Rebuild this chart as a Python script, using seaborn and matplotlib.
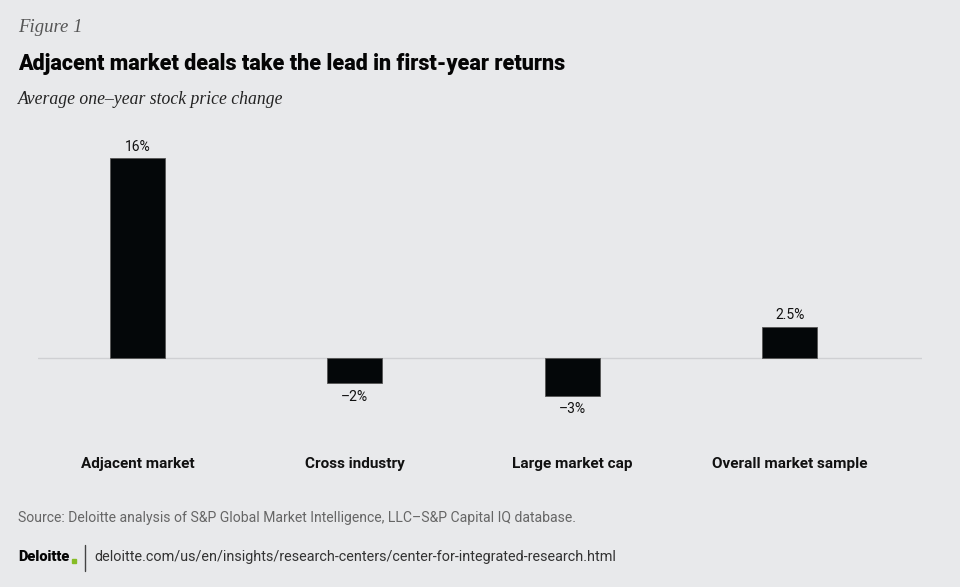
import numpy as np
import pandas as pd
import seaborn as sns
import matplotlib.pyplot as plt
from matplotlib.lines import Line2D

categories = ['Adjacent market', 'Cross industry', 'Large market cap', 'Overall market sample']
values = [16, -2, -3, 2.5]
value_labels = ['16%', '\u20132%', '\u20133%', '2.5%']

df = pd.DataFrame({'category': categories, 'value': values})

bg = '#e8e9eb'
sns.set_theme(style='white')
plt.rcParams['font.family'] = ['Roboto', 'DejaVu Sans']

fig = plt.figure(figsize=(9.6, 5.87), dpi=100, facecolor=bg)
ax = fig.add_axes([38/960, 0.2836, (922-38)/960, 0.4898])
ax.set_facecolor(bg)

sns.barplot(data=df, x='category', y='value', color='#040709', width=0.253,
            saturation=1, ax=ax, edgecolor='#555555', linewidth=0.6)

ax.set_xlim(-0.457, 3.607)
ax.set_ylim(-5, 18)
ax.axhline(0, color='#cfd0d3', lw=1, zorder=0)

for i, (v, lab) in enumerate(zip(values, value_labels)):
    if v >= 0:
        ax.text(i, v + 0.35, lab, ha='center', va='bottom', fontsize=10, color='#111111')
    else:
        ax.text(i, v - 0.55, lab, ha='center', va='top', fontsize=10, color='#111111')

for s in ax.spines.values():
    s.set_visible(False)
ax.set_yticks([])
ax.set_xlabel('')
ax.set_ylabel('')
ax.tick_params(axis='x', length=0, pad=26)
for t in ax.get_xticklabels():
    t.set_fontweight('bold')
    t.set_fontsize(11)
    t.set_color('#111111')

# header texts
fig.text(18/960, 1 - 28/587, 'Figure 1', fontsize=13.5, fontstyle='italic',
         family=['Liberation Serif', 'DejaVu Serif'], color='#555555', va='center')
fig.text(18/960, 1 - 64/587, 'Adjacent market deals take the lead in first-year returns',
         fontsize=15.5, fontweight='black', color='#050505', va='center')
fig.text(18/960, 1 - 99/587, 'Average one\u2013year stock price change', fontsize=12.7,
         fontstyle='italic', family=['Liberation Serif', 'DejaVu Serif'], color='#222222', va='center')

# footer
fig.text(18/960, 1 - 518/587,
         'Source: Deloitte analysis of S&P Global Market Intelligence, LLC\u2013S&P Capital IQ database.',
         fontsize=10.1, color='#666666', va='center')
fig.text(18/960, 1 - 557/587, 'Deloitte', fontsize=10.5, fontweight='black', color='#050505',
         va='center')
fig.add_artist(Line2D([74/960], [1 - 561/587], marker='s', markersize=2.5,
                      color='#86bc25', linestyle='none'))
fig.add_artist(Line2D([85/960, 85/960], [1 - 545/587, 1 - 571/587], color='#444444', lw=1))
fig.text(94/960, 1 - 557/587,
         'deloitte.com/us/en/insights/research-centers/center-for-integrated-research.html',
         fontsize=10.4, color='#333333', va='center')

fig.savefig('out.png', dpi=100, facecolor=bg)
